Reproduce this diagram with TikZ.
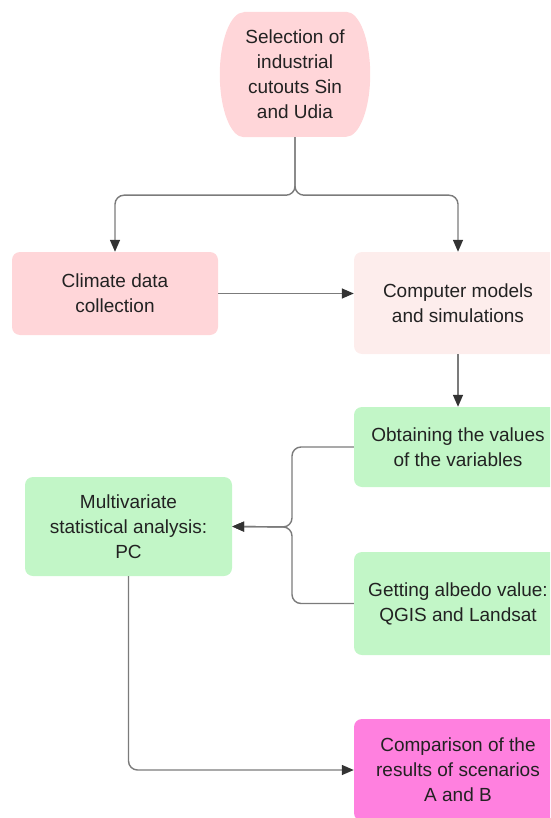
\documentclass[tikz,border=0pt]{standalone}
\usepackage{fontspec}
\setmainfont{Liberation Sans}
\usepackage{tikz}
\usetikzlibrary{arrows.meta,backgrounds,calc}

\definecolor{selpink}{HTML}{FFD6D9}
\definecolor{climpink}{HTML}{FFD6D9}
\definecolor{comppink}{HTML}{FDEDEC}
\definecolor{boxgreen}{HTML}{C2F6C7}
\definecolor{cmpmagenta}{HTML}{FF80DF}
\definecolor{linegray}{HTML}{7B7B7B}
\definecolor{tipgray}{HTML}{333333}
\definecolor{textdark}{HTML}{222222}

\tikzset{
	box/.style={rectangle, rounded corners=8pt, inner sep=0pt, align=center, text=textdark},
	line/.style={draw=linegray, line width=1.4pt, rounded corners=9pt},
	conn/.style={line, -{Triangle[length=12pt,width=10pt,color=tipgray]}}
}

\begin{document}
\begin{tikzpicture}[x=1pt,y=-1pt,font=\fontsize{19}{25}\selectfont]
	\useasboundingbox (0,0) rectangle (550,818);
	\clip (0,0) rectangle (550,818);
	% boxes
	\node[box, minimum width=102pt, minimum height=125pt] (sel) at (295,74.5) {Selection of\\industrial\\cutouts Sin\\and Udia};
	\node[box, fill=climpink, minimum width=206pt, minimum height=83pt] (clim) at (115,293.5) {Climate data\\collection};
	\node[box, fill=comppink, minimum width=208pt, minimum height=102pt] (comp) at (458,303) {Computer models\\and simulations};
	\node[box, fill=boxgreen, minimum width=208pt, minimum height=80pt] (obt) at (458,447) {Obtaining the values\\of the variables};
	\node[box, fill=boxgreen, minimum width=207pt, minimum height=99pt] (multi) at (128.5,526.5) {Multivariate\\statistical analysis:\\PC};
	\node[box, fill=boxgreen, minimum width=208pt, minimum height=103pt] (get) at (458,603.5) {Getting albedo value:\\QGIS and Landsat};
	\node[box, fill=cmpmagenta, minimum width=208pt, minimum height=102pt] (cmp) at (458,770) {Comparison of the\\results of scenarios\\A and B};
	\begin{scope}[on background layer]
		\fill[selpink] (sel.north west) -- (sel.north east)
			arc[start angle=90, end angle=-90, x radius=24pt, y radius=62.5pt]
			-- (sel.south west)
			arc[start angle=270, end angle=90, x radius=24pt, y radius=62.5pt] -- cycle;
	\end{scope}
	% connectors
	\coordinate (fork) at (292,527);
	\draw[conn] (sel.south) -- ++(0,58) -| (clim.north);
	\draw[conn] (sel.south) -- ++(0,58) -| (comp.north);
	\draw[conn] (clim.east) -- (clim.east -| comp.west);
	\draw[conn] (comp.south) -- (obt.north);
	\draw[conn] (obt.west) -| (fork) -- (multi.east);
	\draw[conn] (get.west) -| (fork) -- (multi.east);
	\draw[conn] (multi.south) |- (cmp.west);
\end{tikzpicture}
\end{document}
